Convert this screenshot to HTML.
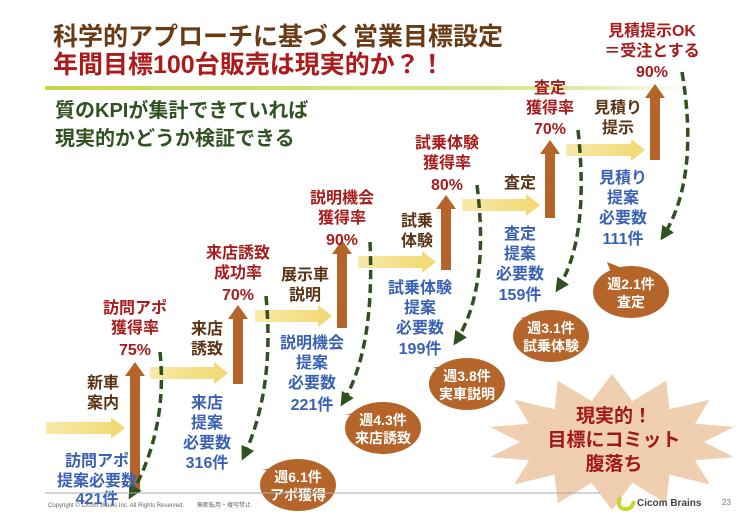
<!DOCTYPE html>
<html><head><meta charset="utf-8"><style>
html,body{margin:0;padding:0;background:#fff}
svg{display:block}
text{font-family:"Liberation Sans","Noto Sans CJK JP",sans-serif;font-weight:bold}
.r{fill:#a81c1c;font-size:16px}
.b{fill:#5a3414;font-size:16px}
.u{fill:#3a62b4;font-size:16px}
.w{fill:#fff;font-size:14px}
</style></head><body>
<svg id="s" width="740" height="526" viewBox="0 0 740 526">
<defs>
<linearGradient id="gl" x1="0" x2="1"><stop offset="0" stop-color="#c8d84a"/><stop offset="0.8" stop-color="#dce89a"/><stop offset="1" stop-color="#fff"/></linearGradient>
<linearGradient id="gy" x1="0" x2="1"><stop offset="0" stop-color="#f8eaa8"/><stop offset="1" stop-color="#f2d870"/></linearGradient>
<marker id="ah" viewBox="0 0 10 10" refX="8" refY="5" markerWidth="4" markerHeight="4" orient="auto"><path d="M0,0L10,5L0,10z" fill="#2f5220"/></marker>
</defs>
<text x="53" y="45" style="font-size:25px;fill:#6a3a14">科学的アプローチに基づく営業目標設定</text>
<text x="53" y="73" style="font-size:25px;fill:#ad1a1a">年間目標100台販売は現実的か？！</text>
<rect x="45" y="86" width="650" height="4" fill="url(#gl)"/>
<text x="55" y="117" style="font-size:20px;fill:#2f5220">質のKPIが集計できていれば</text>
<text x="55" y="145" style="font-size:20px;fill:#2f5220">現実的かどうか検証できる</text>

<g id="arrows"></g>
<g id="curves" fill="none" stroke="#2f5220" stroke-width="3.5" stroke-dasharray="9 5"></g>

<g>
<text class="r" text-anchor="middle"><tspan x="135" y="313">訪問アポ</tspan><tspan x="135" y="333">獲得率</tspan><tspan x="135" y="355">75%</tspan></text>
<text class="b" text-anchor="middle"><tspan x="103" y="388">新車</tspan><tspan x="103" y="408">案内</tspan></text>
<text class="u" text-anchor="middle"><tspan x="97" y="466">訪問アポ</tspan><tspan x="97" y="486">提案必要数</tspan><tspan x="97" y="504">421件</tspan></text>

<text class="b" text-anchor="middle"><tspan x="207" y="334">来店</tspan><tspan x="207" y="354">誘致</tspan></text>
<text class="r" text-anchor="middle"><tspan x="238" y="258">来店誘致</tspan><tspan x="238" y="278">成功率</tspan><tspan x="238" y="300">70%</tspan></text>
<text class="u" text-anchor="middle"><tspan x="207" y="408">来店</tspan><tspan x="207" y="428">提案</tspan><tspan x="207" y="448">必要数</tspan><tspan x="207" y="468">316件</tspan></text>

<text class="b" text-anchor="middle"><tspan x="305" y="280">展示車</tspan><tspan x="305" y="300">説明</tspan></text>
<text class="r" text-anchor="middle"><tspan x="342" y="203">説明機会</tspan><tspan x="342" y="223">獲得率</tspan><tspan x="342" y="245">90%</tspan></text>
<text class="u" text-anchor="middle"><tspan x="312" y="348">説明機会</tspan><tspan x="312" y="368">提案</tspan><tspan x="312" y="388">必要数</tspan><tspan x="312" y="410">221件</tspan></text>

<text class="b" text-anchor="middle"><tspan x="417" y="226">試乗</tspan><tspan x="417" y="246">体験</tspan></text>
<text class="r" text-anchor="middle"><tspan x="447" y="148">試乗体験</tspan><tspan x="447" y="168">獲得率</tspan><tspan x="447" y="190">80%</tspan></text>
<text class="u" text-anchor="middle"><tspan x="420" y="293">試乗体験</tspan><tspan x="420" y="313">提案</tspan><tspan x="420" y="333">必要数</tspan><tspan x="420" y="354">199件</tspan></text>

<text class="b" text-anchor="middle" x="520" y="188">査定</text>
<text class="r" text-anchor="middle"><tspan x="550" y="93">査定</tspan><tspan x="550" y="113">獲得率</tspan><tspan x="550" y="134">70%</tspan></text>
<text class="u" text-anchor="middle"><tspan x="520" y="239">査定</tspan><tspan x="520" y="259">提案</tspan><tspan x="520" y="279">必要数</tspan><tspan x="520" y="300">159件</tspan></text>

<text class="b" text-anchor="middle"><tspan x="618" y="113">見積り</tspan><tspan x="618" y="133">提示</tspan></text>
<text class="r" text-anchor="middle"><tspan x="652" y="36">見積提示OK</tspan><tspan x="652" y="56">＝受注とする</tspan><tspan x="652" y="77">90%</tspan></text>
<text class="u" text-anchor="middle"><tspan x="623" y="183">見積り</tspan><tspan x="623" y="203">提案</tspan><tspan x="623" y="223">必要数</tspan><tspan x="623" y="244">111件</tspan></text>
</g>

<g id="bubbles"></g>

<polygon id="burst" fill="#f0cfb0"/>
<text text-anchor="middle" style="font-size:19px;fill:#a01818"><tspan x="614" y="422">現実的！</tspan><tspan x="614" y="446">目標にコミット</tspan><tspan x="614" y="470">腹落ち</tspan></text>

<line x1="45" y1="493" x2="600" y2="493" stroke="#aaa" stroke-width="1"/>
<text x="48" y="507" style="font-size:6px;font-weight:normal;fill:#666">Copyright © Cicom Brains Inc. All Rights Reserved.</text>
<text x="197" y="507" style="font-size:6px;font-weight:normal;fill:#666">無断転用・複写禁止</text>
<path d="M620,497 q-4,12 6,12 q6,0 8,-8" fill="none" stroke="#c8d630" stroke-width="4"/>
<text x="637" y="506" style="font-size:10px;fill:#444">Cicom Brains</text>
<text x="722" y="505" style="font-size:8px;font-weight:normal;fill:#777">23</text>
</svg>
<script>
const NS="http://www.w3.org/2000/svg";
const yArrows=[[46,125,428],[150,228,373],[255,332,316],[358,436,262],[462,540,205],[566,645,150]];
const bArrows=[[135,492,362],[238,384,305],[342,328,240],[446,270,195],[550,218,140],[655,160,84]];
const curves=[[160,352,168,430,130,497],[266,296,275,390,243,458],[370,242,375,350,342,404],[477,185,490,290,455,343],[578,130,590,240,557,290],[682,72,700,180,662,238]];
const bubbleTexts=[["週6.1件","アポ獲得"],["週4.3件","来店誘致"],["週3.8件","実車説明"],["週3.1件","試乗体験"],["週2.1件","査定"]];
const bubblePos=[[298,485,262,470],[383,428,345,415],[467,384,432,368],[551,336,520,318],[631,292,607,262]];
const ga=document.getElementById('arrows');
yArrows.forEach((a,i)=>{const[x1,x2,y]=a;const p=document.createElementNS(NS,'polygon');
p.setAttribute('points',`${x1},${y-6} ${x2-14},${y-6} ${x2-14},${y-11} ${x2},${y} ${x2-14},${y+11} ${x2-14},${y+6} ${x1},${y+6}`);
p.setAttribute('fill','url(#gy)');


ga.appendChild(p);});
bArrows.forEach((a,i)=>{const[cx,yb,yt]=a;const p=document.createElementNS(NS,'polygon');
p.setAttribute('points',`${cx-5},${yb} ${cx-5},${yt+14} ${cx-10},${yt+14} ${cx},${yt} ${cx+10},${yt+14} ${cx+5},${yt+14} ${cx+5},${yb}`);
p.setAttribute('fill','#b5652a');


ga.appendChild(p);});
const gc=document.getElementById('curves');
curves.forEach((c,i)=>{const p=document.createElementNS(NS,'path');
p.setAttribute('d',`M${c[0]},${c[1]} Q${c[2]},${c[3]} ${c[4]},${c[5]}`);
p.setAttribute('marker-end','url(#ah)');


gc.appendChild(p);});
const gb=document.getElementById('bubbles');
bubblePos.forEach((b,i)=>{const[cx,cy,tx,ty]=b;const g=document.createElementNS(NS,'g');


const t=document.createElementNS(NS,'polygon');t.setAttribute('points',`${tx},${ty} ${cx-18},${cy-14} ${cx-4},${cy-22}`);t.setAttribute('fill','#b5652a');g.appendChild(t);
const e=document.createElementNS(NS,'ellipse');e.setAttribute('cx',cx);e.setAttribute('cy',cy);e.setAttribute('rx',38);e.setAttribute('ry',26);e.setAttribute('fill','#b5652a');g.appendChild(e);
bubbleTexts[i].forEach((s,j)=>{const tx2=document.createElementNS(NS,'text');tx2.setAttribute('class','w');tx2.setAttribute('text-anchor','middle');tx2.setAttribute('x',cx);tx2.setAttribute('y',bubbleTexts[i].length==1?cy+5:cy-3+j*18);tx2.textContent=s;g.appendChild(tx2);});
gb.appendChild(g);});
const pts=[];const N=14;for(let k=0;k<N*2;k++){const a=Math.PI*k/N-Math.PI/2;const ro=k%2==0;pts.push((612+Math.cos(a)*(ro?125:92)).toFixed(1)+','+(442+Math.sin(a)*(ro?68:42)).toFixed(1));}
document.getElementById('burst').setAttribute('points',pts.join(' '));
</script>
</body></html>
